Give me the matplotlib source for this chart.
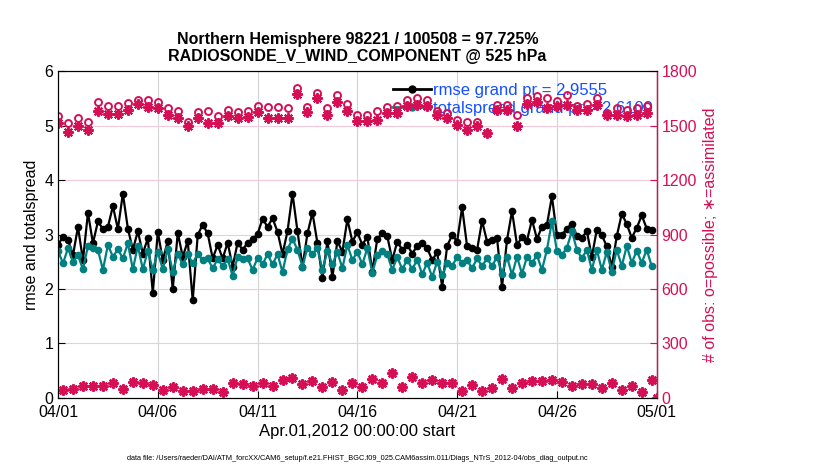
import numpy as np
import pandas as pd
import matplotlib
matplotlib.use("Agg")
import matplotlib.pyplot as plt
import matplotlib.dates as mdates
from matplotlib.lines import Line2D

plt.rcParams['font.family'] = ['Liberation Sans', 'DejaVu Sans']

# 6-hourly bins, 2012-04-01 00Z .. 2012-04-30 18Z
rmse = [2.81, 2.96, 2.90, 2.62, 3.14, 2.53, 3.40, 2.84, 3.24, 3.10,
        3.14, 3.52, 3.10, 3.75, 3.11, 2.72, 3.06, 2.65, 2.93, 1.93,
        3.05, 2.53, 2.88, 2.00, 3.03, 2.59, 2.88, 1.79, 2.99, 3.18,
        3.02, 2.56, 2.81, 2.56, 2.85, 2.41, 2.85, 2.72, 2.85, 2.91,
        3.01, 3.29, 3.14, 3.30, 3.05, 2.64, 3.06, 3.75, 3.06, 2.41,
        3.02, 3.40, 2.84, 2.20, 2.88, 2.22, 2.88, 2.68, 3.28, 2.87,
        3.04, 2.81, 2.96, 2.32, 2.92, 3.03, 2.97, 2.53, 2.87, 2.72,
        2.81, 2.65, 2.79, 2.85, 2.75, 2.53, 2.67, 2.04, 2.79, 2.99,
        2.87, 3.50, 2.78, 2.75, 2.72, 3.25, 2.87, 2.90, 2.93, 2.04,
        2.90, 3.43, 2.81, 2.95, 2.89, 3.27, 2.92, 3.14, 3.18, 3.70,
        2.99, 2.99, 3.11, 3.20, 2.97, 2.94, 3.06, 2.59, 3.09, 2.99,
        2.78, 2.41, 2.97, 3.38, 3.19, 2.94, 3.12, 3.35, 3.11, 3.08]

spread = [2.70, 2.47, 2.75, 2.50, 2.62, 2.36, 2.79, 2.75, 2.72, 2.35,
          2.81, 2.59, 2.73, 2.56, 2.84, 2.36, 2.79, 2.36, 2.70, 2.35,
          2.68, 2.36, 2.73, 2.32, 2.64, 2.45, 2.64, 2.47, 2.64, 2.53,
          2.56, 2.38, 2.55, 2.42, 2.55, 2.24, 2.59, 2.55, 2.56, 2.35,
          2.57, 2.45, 2.64, 2.45, 2.64, 2.31, 2.73, 2.92, 2.72, 2.41,
          2.76, 2.64, 2.75, 2.35, 2.70, 2.45, 2.68, 2.38, 2.81, 2.53,
          2.68, 2.45, 2.75, 2.30, 2.62, 2.70, 2.64, 2.35, 2.59, 2.36,
          2.54, 2.36, 2.54, 2.27, 2.48, 2.22, 2.50, 2.26, 2.47, 2.42,
          2.59, 2.48, 2.53, 2.38, 2.56, 2.42, 2.56, 2.42, 2.59, 2.28,
          2.59, 2.26, 2.59, 2.28, 2.59, 2.47, 2.62, 2.35, 2.72, 3.24,
          2.70, 2.62, 2.76, 3.06, 2.72, 2.56, 2.72, 2.35, 2.72, 2.35,
          2.68, 2.32, 2.72, 2.42, 2.79, 2.48, 2.70, 2.48, 2.72, 2.42]

# obs counts at 00Z/12Z (possible, assimilated)
poss_main = [1550, 1513, 1544, 1522, 1632, 1605, 1610, 1623, 1641, 1641,
             1628, 1595, 1581, 1522, 1577, 1581, 1555, 1586, 1577, 1581,
             1605, 1601, 1601, 1595, 1705, 1601, 1678, 1595, 1669, 1617,
             1559, 1559, 1581, 1601, 1610, 1641, 1654, 1641, 1581, 1568,
             1531, 1518, 1518, 1460, 1614, 1614, 1559, 1650, 1660, 1650,
             1636, 1669, 1610, 1617, 1650, 1568, 1595, 1586, 1599, 1605]
assim_main = [1513, 1467, 1498, 1476, 1581, 1564, 1564, 1586, 1619, 1601,
              1595, 1559, 1544, 1495, 1540, 1513, 1513, 1550, 1544, 1546,
              1573, 1544, 1544, 1540, 1672, 1577, 1650, 1559, 1628, 1581,
              1526, 1526, 1531, 1568, 1568, 1610, 1614, 1610, 1559, 1540,
              1502, 1476, 1495, 1458, 1586, 1586, 1498, 1617, 1628, 1599,
              1610, 1614, 1586, 1586, 1614, 1559, 1559, 1550, 1559, 1568]
# obs counts at 06Z/18Z (possible == assimilated), last value is 05/01 00Z
nobs_off = [44, 48, 68, 68, 68, 84, 50, 86, 81, 72,
            44, 62, 40, 40, 48, 50, 35, 81, 75, 66,
            81, 66, 99, 108, 75, 94, 62, 86, 42, 84,
            62, 103, 81, 136, 62, 117, 81, 99, 84, 81,
            40, 72, 40, 53, 103, 57, 81, 95, 95, 99,
            86, 66, 75, 75, 53, 84, 44, 66, 35, 99, 0]

t = pd.date_range('2012-04-01 00:00', periods=120, freq='6h')
t_main = t[0::2]
t_off = list(t[1::2]) + [pd.Timestamp('2012-05-01 00:00')]

black = 'black'
teal = '#008080'
mag = '#d60f55'
blue = '#1450ff'

fig = plt.figure(figsize=(8.3, 4.7), dpi=100)
ax = fig.add_axes([0.0699, 0.1532, 0.7213, 0.6957])
ax2 = ax.twinx()

ax.plot(t, rmse, '-o', color=black, lw=1.6, ms=4.5, zorder=3)
ax.plot(t, spread, '-o', color=teal, lw=1.6, ms=4.5, zorder=3)

ax2.plot(t_main, poss_main, 'o', color=mag, mfc='none', ms=5, mew=1.4)
ax2.plot(t_main, assim_main, marker=(8, 2, 0), ls='none', color=mag, ms=7.5, mew=1.5)
ax2.plot(t_off, nobs_off, 'o', color=mag, mfc='none', ms=5, mew=1.4)
ax2.plot(t_off, nobs_off, marker=(8, 2, 0), ls='none', color=mag, ms=7.5, mew=1.5)

ax.set_xlim(pd.Timestamp('2012-04-01'), pd.Timestamp('2012-05-01'))
ax.xaxis.set_major_locator(mdates.DayLocator(bymonthday=[1, 6, 11, 16, 21, 26]))
ax.xaxis.set_major_formatter(mdates.DateFormatter('%m/%d'))
ax.set_ylim(0, 6)
ax.set_yticks(range(7))
ax2.set_ylim(0, 1800)
ax2.set_yticks(range(0, 1801, 300))

ax.set_axisbelow(True)
ax.xaxis.grid(True, color='#d4d4d4', lw=0.8)
ax.yaxis.grid(True, color='#f3c9d7', lw=0.8)

ax.tick_params(direction='in', labelsize=11.5, length=5, top=False)
ax.tick_params(axis='x', pad=5)
ax2.tick_params(direction='in', labelsize=11.5, length=5, colors=mag)
ax2.spines['right'].set_color(mag)
ax2.spines['right'].set_linewidth(1.0)

ax.set_ylabel('rmse and totalspread', fontsize=11.5)
ax2.set_ylabel('# of obs: o=possible; \u2217=assimilated', fontsize=11.5, color=mag)
ax.set_xlabel('Apr.01,2012 00:00:00 start', fontsize=12, labelpad=3)
ax.set_title('Northern Hemisphere 98221 / 100508 = 97.725%\n'
             'RADIOSONDE_V_WIND_COMPONENT @ 525 hPa',
             fontsize=11.5, fontweight='bold', pad=7)

handles = [Line2D([], [], color=black, marker='o', lw=2, ms=5),
           Line2D([], [], color=teal, marker='o', lw=2, ms=5)]
ax.legend(handles, ['rmse grand pr = 2.9555', 'totalspread grand pr = 2.6109'],
          loc='upper left', bbox_to_anchor=(393 / 830, 1 - 83 / 470),
          bbox_transform=fig.transFigure, frameon=False, fontsize=12,
          labelcolor=blue, handlelength=2.3, handletextpad=0.1,
          labelspacing=0.2, borderpad=0, borderaxespad=0)

fig.text(357 / 830, 1 - 458 / 470,
         'data file: /Users/raeder/DAI/ATM_forcXX/CAM6_setup/f.e21.FHIST_BGC.f09_025.CAM6assim.011/Diags_NTrS_2012-04/obs_diag_output.nc',
         ha='center', va='center', fontsize=5.3)

fig.savefig('out.png', dpi=100)
